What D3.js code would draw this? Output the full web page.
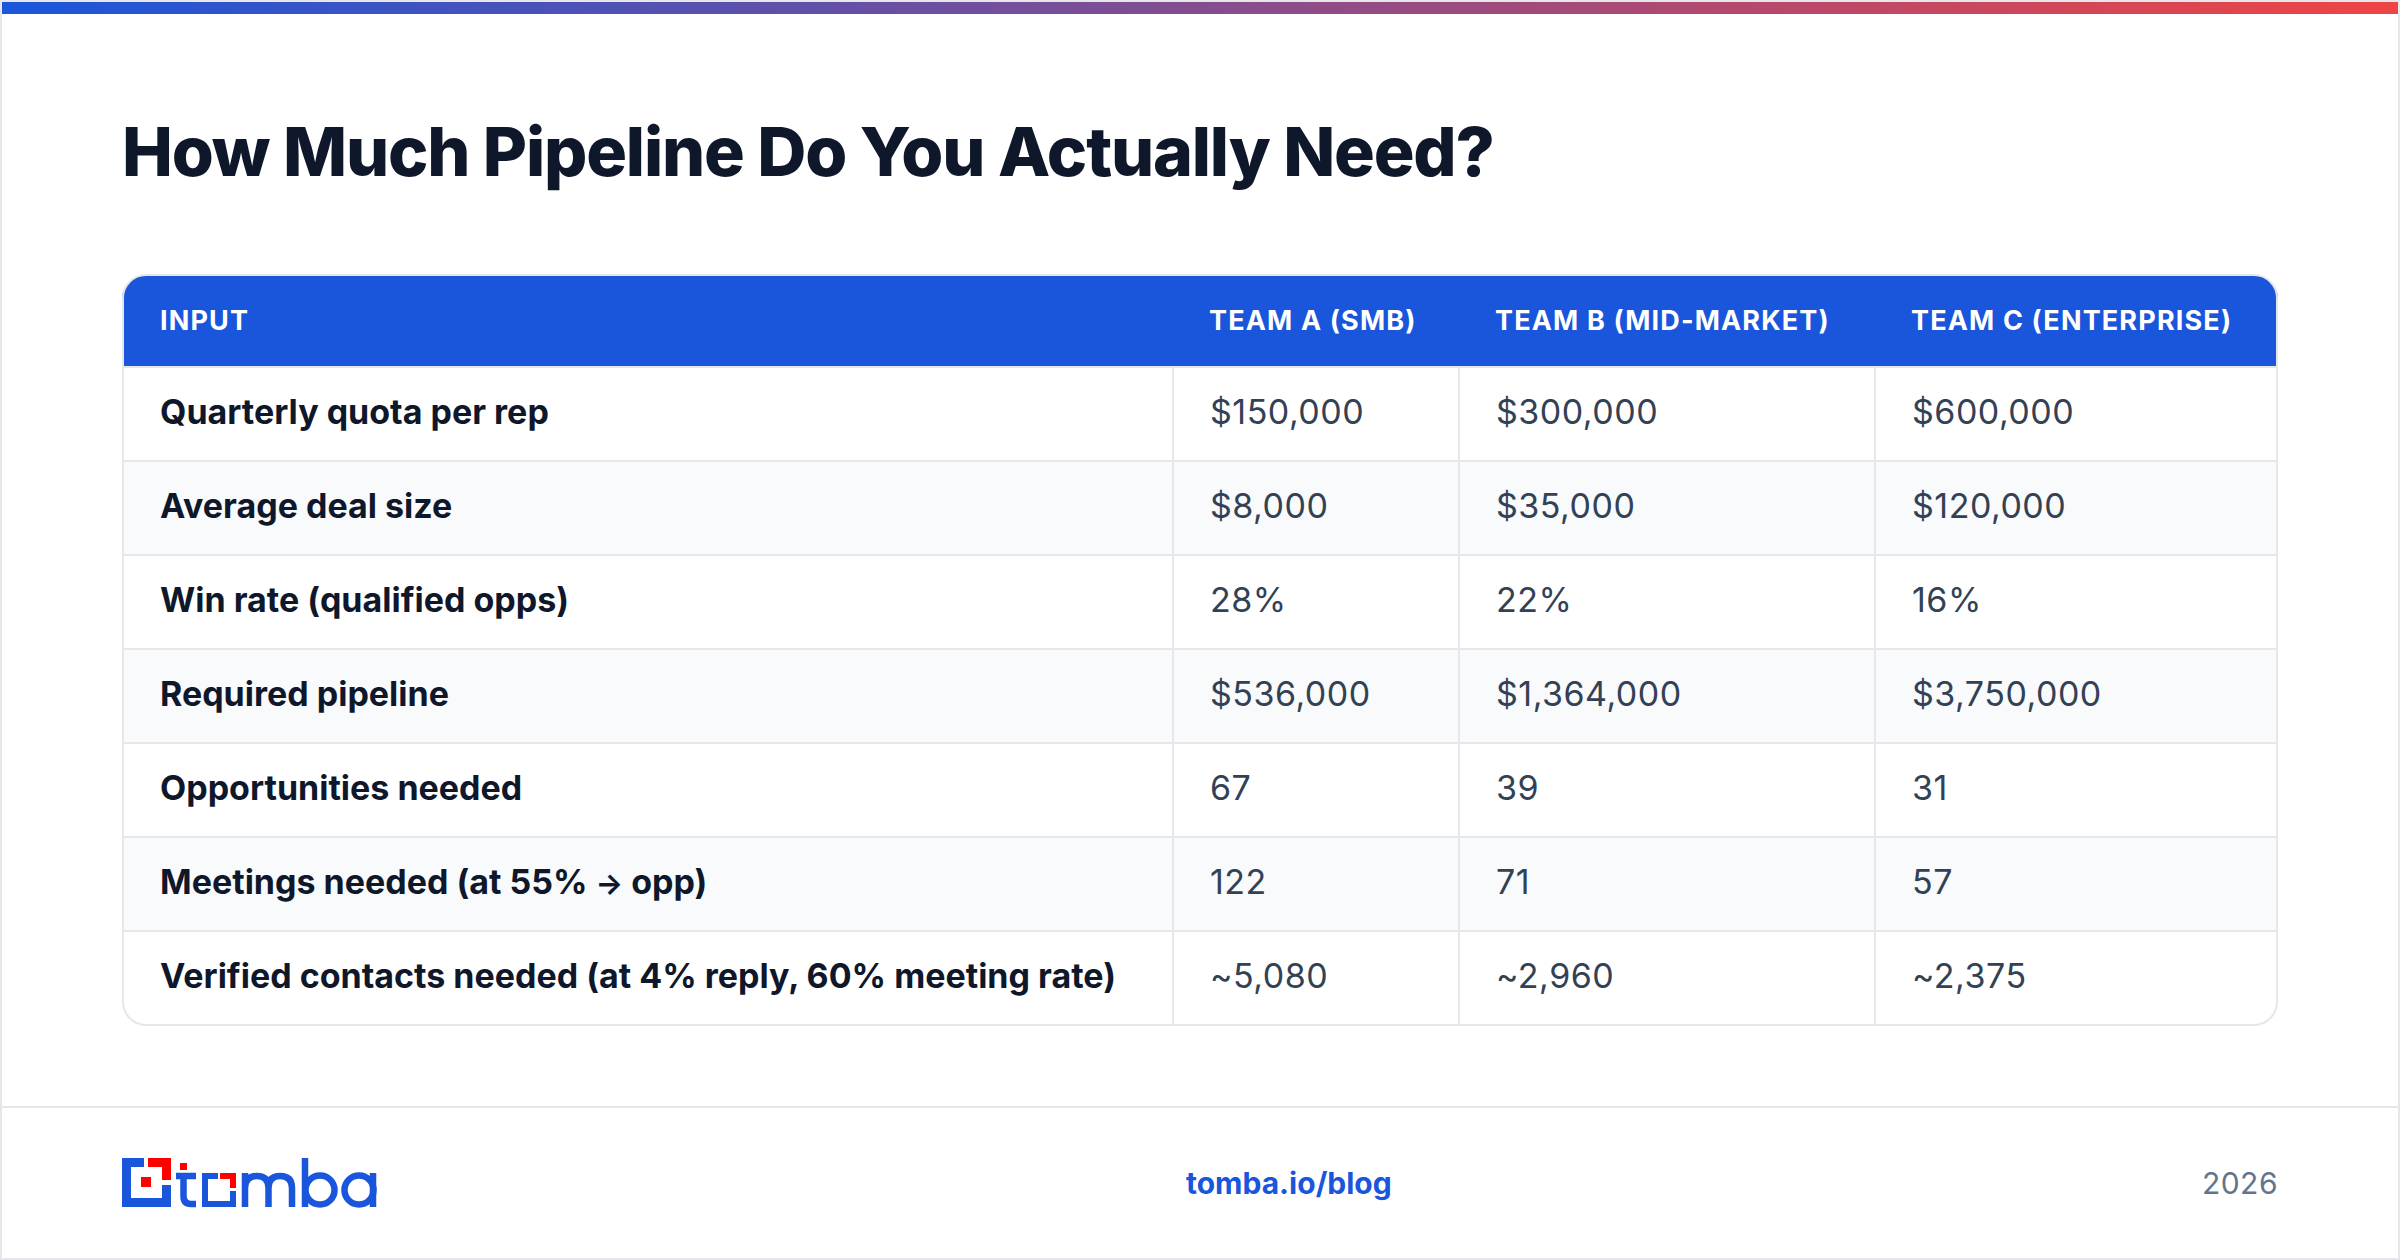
<!DOCTYPE html>
<html lang="en">
<head>
<meta charset="UTF-8">
<title>How Much Pipeline Do You Actually Need?</title>
<script src="https://d3js.org/d3.v7.min.js"></script>
<style>
  html, body { margin: 0; padding: 0; background: #fff; }
  svg { display: block; font-family: Inter, sans-serif; }
</style>
</head>
<body>
<svg width="2400" height="1260"></svg>
<script>
const title = "How Much Pipeline Do You Actually Need?";
const columns = ["INPUT", "TEAM A (SMB)", "TEAM B (MID-MARKET)", "TEAM C (ENTERPRISE)"];
const rowLabels = ["Quarterly quota per rep", "Average deal size", "Win rate (qualified opps)", "Required pipeline",
  "Opportunities needed", "Meetings needed (at 55% → opp)", "Verified contacts needed (at 4% reply, 60% meeting rate)"];
const teamA = ["$150,000", "$8,000", "28%", "$536,000", "67", "122", "~5,080"];
const teamB = ["$300,000", "$35,000", "22%", "$1,364,000", "39", "71", "~2,960"];
const teamC = ["$600,000", "$120,000", "16%", "$3,750,000", "31", "57", "~2,375"];

const svg = d3.select("svg");
const defs = svg.append("defs");

// top gradient bar
const grad = defs.append("linearGradient").attr("id", "bar");
grad.append("stop").attr("offset", "0%").attr("stop-color", "#1a56db");
grad.append("stop").attr("offset", "100%").attr("stop-color", "#ef4444");

const line = "#e5e7eb";
svg.append("rect").attr("x", 1).attr("y", 1).attr("width", 2398).attr("height", 1258)
  .attr("fill", "#fff").attr("stroke", "#e6e6ec").attr("stroke-width", 2);
svg.append("rect").attr("x", 2).attr("y", 2).attr("width", 2396).attr("height", 12).attr("fill", "url(#bar)");

svg.append("text").attr("x", 122).attr("y", 176)
  .attr("font-size", 68).attr("font-weight", 800).attr("letter-spacing", -1.2)
  .attr("fill", "#0f172a").text(title);

// table geometry
const tLeft = 122, tRight = 2278, tTop = 275, tBottom = 1026, headBottom = 366;
const colEdge = d3.scaleOrdinal().domain(columns).range([tLeft, 1172, 1458, 1874]);
const y = d3.scaleBand().domain(rowLabels).range([headBottom, tBottom - 2]);
const textX = name => name === columns[0] ? 160 : colEdge(name) + 37;

defs.append("clipPath").attr("id", "tbl").append("rect")
  .attr("x", tLeft).attr("y", tTop).attr("width", tRight - tLeft).attr("height", tBottom - tTop).attr("rx", 24);

const table = svg.append("g").attr("clip-path", "url(#tbl)");
table.append("rect").attr("x", tLeft).attr("y", tTop).attr("width", tRight - tLeft).attr("height", headBottom - tTop).attr("fill", "#1a56db");

const rows = table.selectAll("g.row").data(rowLabels).join("g").attr("class", "row");
rows.append("rect")
  .attr("x", tLeft).attr("y", d => y(d)).attr("width", tRight - tLeft).attr("height", y.bandwidth())
  .attr("fill", (d, i) => i % 2 ? "#f8fafc" : "#fff");
rows.append("rect")
  .attr("x", tLeft).attr("y", d => y(d)).attr("width", tRight - tLeft).attr("height", 2)
  .attr("fill", line);
table.selectAll("rect.vline").data(columns.slice(1)).join("rect").attr("class", "vline")
  .attr("x", d => colEdge(d)).attr("y", headBottom).attr("width", 2).attr("height", tBottom - headBottom)
  .attr("fill", line);

svg.append("rect").attr("x", tLeft + 1).attr("y", tTop).attr("width", tRight - tLeft - 2).attr("height", tBottom - tTop - 1).attr("rx", 23)
  .attr("fill", "none").attr("stroke", line).attr("stroke-width", 2);

svg.selectAll("text.head").data(columns).join("text").attr("class", "head")
  .attr("x", d => textX(d)).attr("y", 330)
  .attr("font-size", 27).attr("font-weight", 700).attr("letter-spacing", 1.15)
  .attr("fill", "#fff").text(d => d);

// the arrow glyph runs a bit small in the reference
const labels = svg.selectAll("text.label").data(rowLabels).join("text").attr("class", "label")
  .attr("x", textX(columns[0])).attr("y", d => y(d) + y.bandwidth() / 2 + 11)
  .attr("font-size", 34).attr("font-weight", 700)
  .attr("fill", "#0f172a");
labels.selectAll("tspan").data(d => d.split(/(→)/)).join("tspan")
  .attr("font-size", d => d === "→" ? 29 : null)
  .text(d => d);

[teamA, teamB, teamC].forEach((vals, k) => {
  svg.selectAll("text.v" + k).data(vals).join("text").attr("class", "v" + k)
    .attr("x", textX(columns[k + 1]) + 1)
    .attr("y", (d, i) => y(rowLabels[i]) + y.bandwidth() / 2 + 11)
    .attr("font-size", 34).attr("letter-spacing", 0.5).attr("fill", "#334155").text(d => d);
});

// footer
svg.append("rect").attr("x", 2).attr("y", 1106).attr("width", 2396).attr("height", 2).attr("fill", line);
svg.append("text").attr("x", 1186).attr("y", 1194).attr("font-size", 30).attr("font-weight", 700)
  .attr("fill", "#1a56db").text("tomba.io/blog");
svg.append("text").attr("x", 2278).attr("y", 1194).attr("text-anchor", "end").attr("font-size", 30).attr("letter-spacing", 0.5)
  .attr("fill", "#64748b").text("2026");

// logo
const logo = svg.append("g");
const blue = "#1a56db", red = "#ff0000";
logo.append("path").attr("fill", blue).attr("d", "M122 1158H144V1167H131V1198H162V1185H171V1207H122Z");
logo.append("path").attr("fill", red).attr("d", "M148 1158H171V1180H162V1167H148Z");
logo.append("rect").attr("x", 141).attr("y", 1177).attr("width", 10).attr("height", 10).attr("fill", red);
logo.append("rect").attr("x", 180).attr("y", 1163).attr("width", 7).attr("height", 7).attr("fill", red);
logo.append("path").attr("fill", blue).attr("d", "M202 1173H218V1179H208V1201H230V1191H236V1207H202Z");
logo.append("path").attr("fill", red).attr("d", "M220 1173H236V1188H230V1179H220Z");
const strokes = logo.append("g").attr("fill", "none").attr("stroke", blue).attr("stroke-width", 6.5);
strokes.append("path").attr("d", "M176 1176H196M183.5 1176V1196Q183.5 1204 191 1204H196");
strokes.append("path").attr("d", "M245 1207V1173M245 1188Q245 1176 257 1176Q268.5 1176 268.5 1188V1207M268.5 1188Q268.5 1176 280 1176Q292 1176 292 1188V1207");
strokes.append("path").attr("d", "M305 1158V1207");
strokes.append("circle").attr("cx", 320).attr("cy", 1190).attr("r", 14.5);
strokes.append("circle").attr("cx", 359).attr("cy", 1190).attr("r", 14.5);
strokes.append("path").attr("d", "M373 1173V1207");
</script>
</body>
</html>
